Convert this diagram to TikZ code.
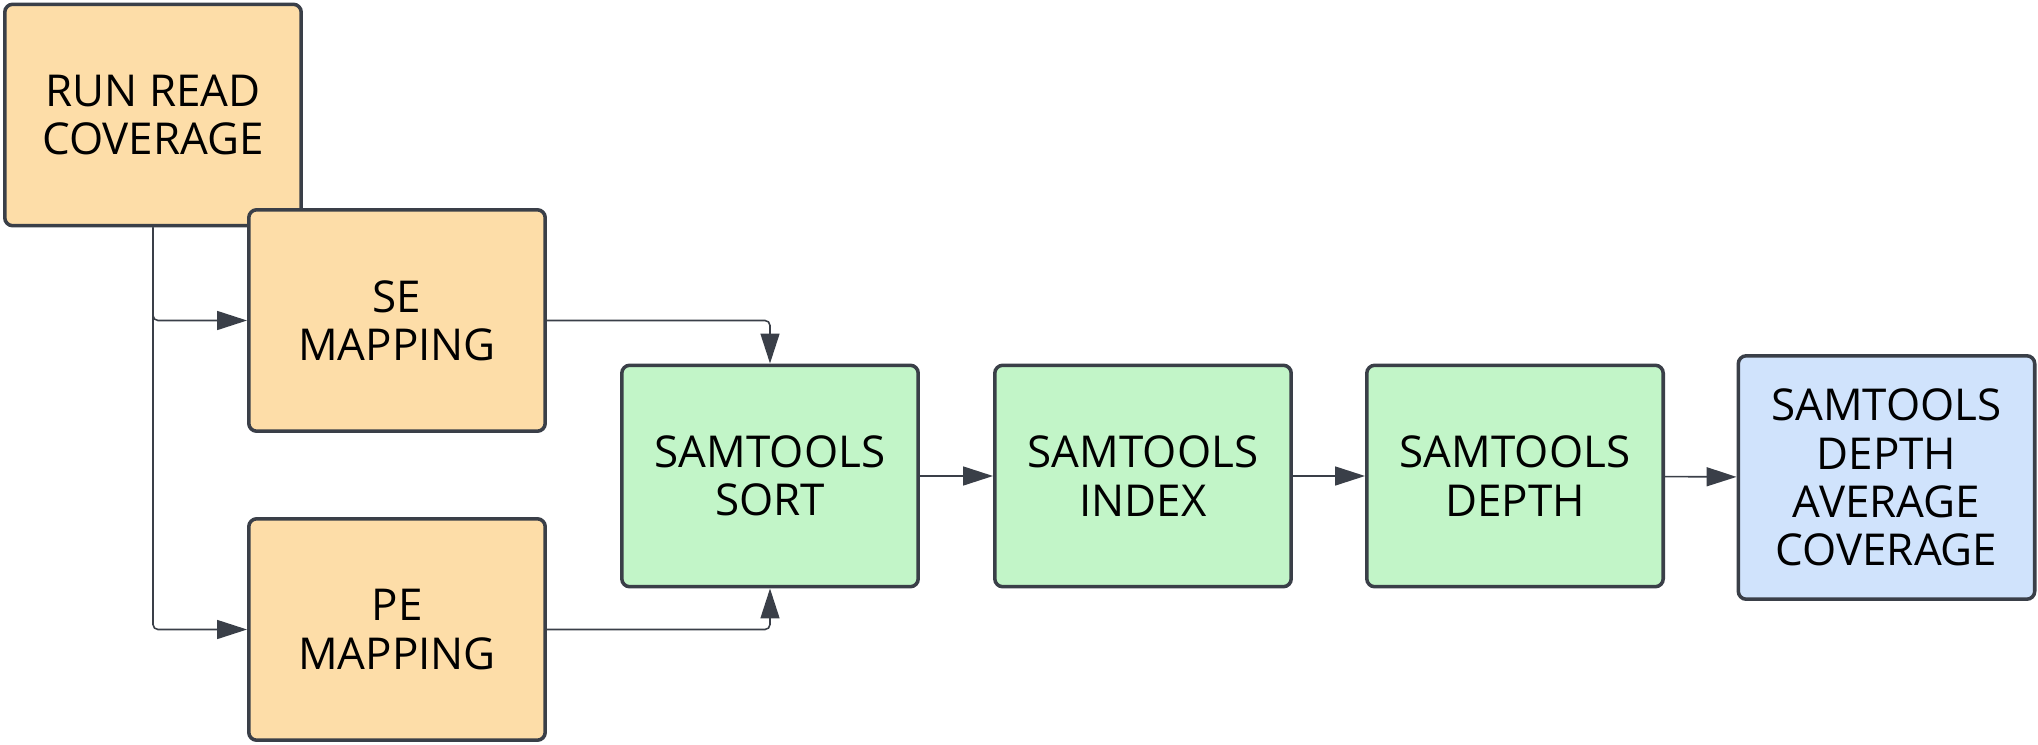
\documentclass[tikz,border=0pt]{standalone}
\usepackage{fontspec}
\setmainfont{Open Sans}
\usetikzlibrary{arrows.meta}
\definecolor{edgegray}{HTML}{3A3F48}
\definecolor{mapfill}{HTML}{FDDDA8}
\definecolor{samfill}{HTML}{C2F5C8}
\definecolor{outfill}{HTML}{D0E3FC}
\begin{document}
\begin{tikzpicture}[x=0.02cm,y=-0.02cm,
    every node/.style={font=\fontsize{25}{27.5}\selectfont,align=center,text=black},
    box/.style={draw=edgegray,line width=2pt,rounded corners=0.16cm,minimum width=5.93cm,minimum height=4.43cm,inner sep=0pt},
    conn/.style={draw=edgegray,line width=0.9pt,rounded corners=0.1cm,-{Triangle[length=0.6cm,width=0.38cm]}}]
    \useasboundingbox (0,0) rectangle (2038,744);
    \node[box,fill=mapfill] (run) at (153,115) {RUN READ\\COVERAGE};
    \node[box,fill=mapfill] (se) at (397,320.5) {SE\\MAPPING};
    \node[box,fill=mapfill] (pe) at (397,629.5) {PE\\MAPPING};
    \node[box,fill=samfill] (sort) at (770,476) {SAMTOOLS\\SORT};
    \node[box,fill=samfill] (index) at (1143,476) {SAMTOOLS\\INDEX};
    \node[box,fill=samfill] (depth) at (1515,476) {SAMTOOLS\\DEPTH};
    \node[box,fill=outfill,minimum height=4.87cm] (avg) at (1886.5,477.5) {SAMTOOLS\\DEPTH\\AVERAGE\\COVERAGE};
    \draw[conn] (run.south) |- (se.west);
    \draw[conn] (run.south) |- (pe.west);
    \draw[conn] (se.east) -| (sort.north);
    \draw[conn] (pe.east) -| (sort.south);
    \draw[conn] (sort) -- (index);
    \draw[conn] (index) -- (depth);
    \draw[conn] (depth) -- (avg);
\end{tikzpicture}
\end{document}
